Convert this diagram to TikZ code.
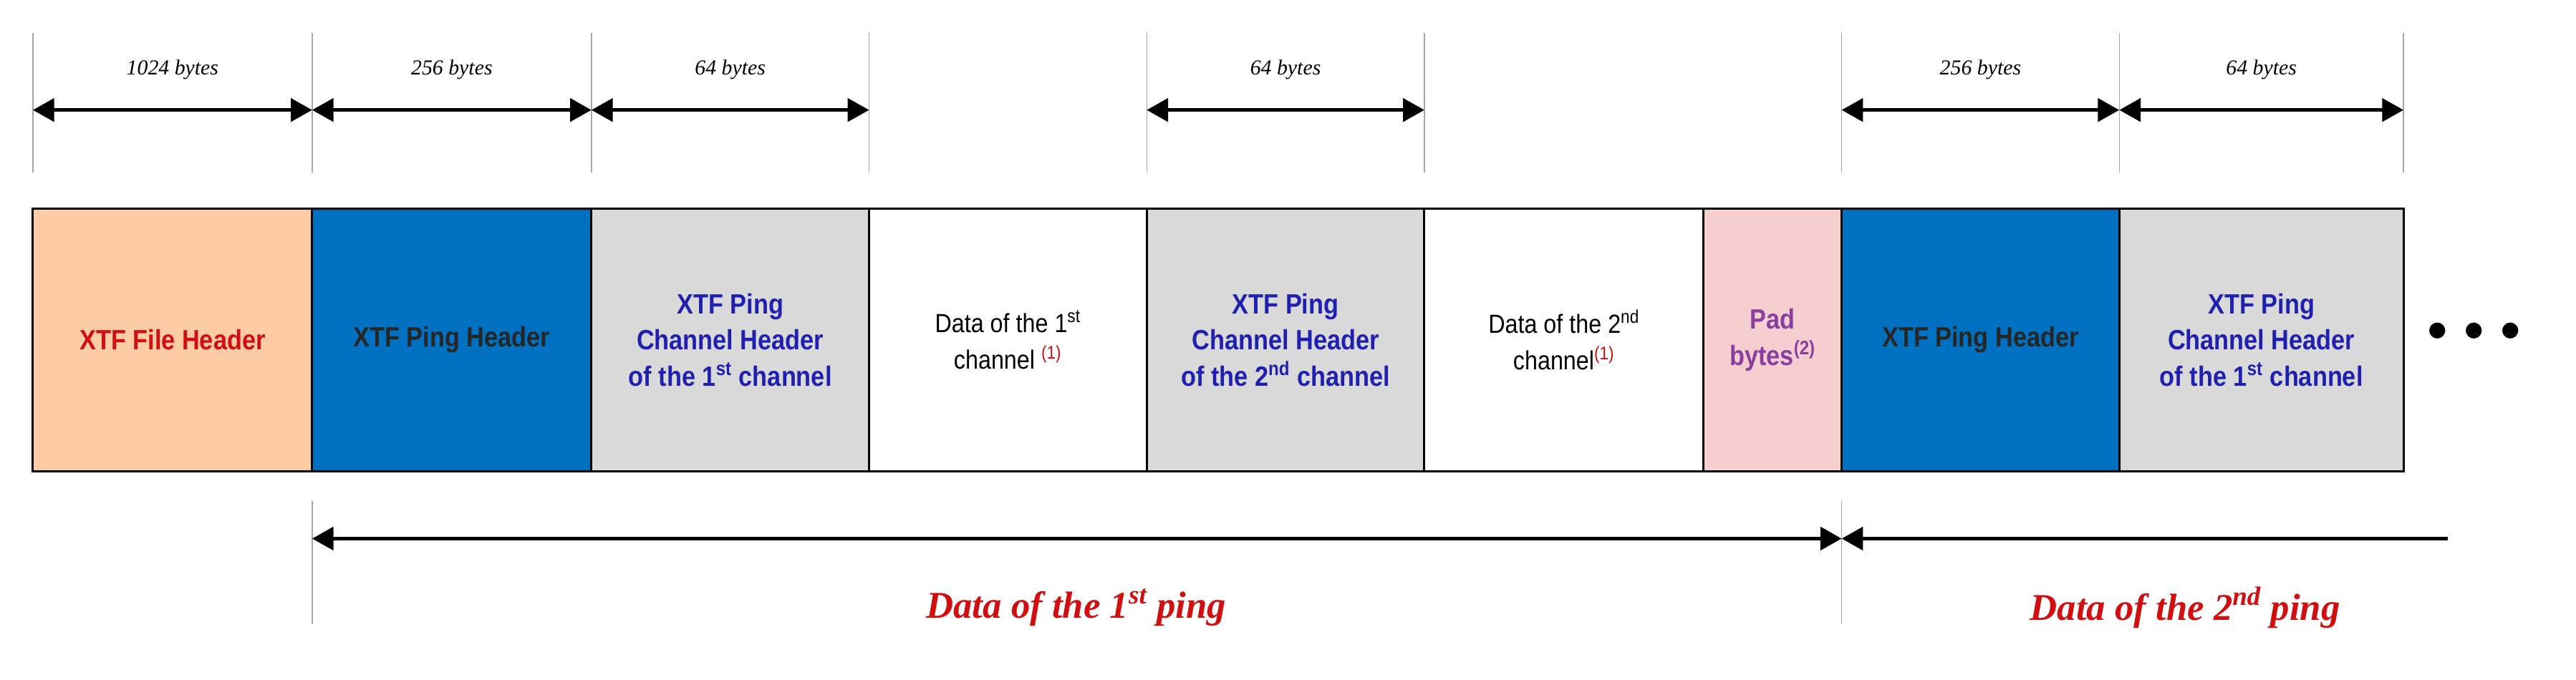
\documentclass[tikz,border=0pt]{standalone}
\usepackage{fontspec}
\setmainfont{Liberation Sans}[FakeStretch=0.88]
\newfontfamily\serifit{Liberation Serif}
\usetikzlibrary{arrows.meta}
\definecolor{cOrange}{HTML}{FDCBA6}
\definecolor{cBlue}{HTML}{0070C0}
\definecolor{cGray}{HTML}{D9D9D9}
\definecolor{cPink}{HTML}{F5CFCF}
\definecolor{tRed}{HTML}{D01010}
\definecolor{tBlue}{HTML}{2020B0}
\definecolor{tPurple}{HTML}{8A3FA0}
\begin{document}
\begin{tikzpicture}[x=1pt,y=-1pt,
  seg/.style={draw=black,line width=1.3pt,minimum height=160pt,inner sep=0pt,align=center,font=\bfseries\fontsize{17}{22}\selectfont},
  tick/.style={draw=gray!70,line width=0.6pt},
  dim/.style={line width=2.2pt,{Triangle[length=13pt,width=14pt]}-{Triangle[length=13pt,width=14pt]}},
  dimlab/.style={font=\serifit\itshape\fontsize{13}{15}\selectfont},
  pinglab/.style={font=\serifit\bfseries\itshape\fontsize{23}{27}\selectfont,text=tRed}]
\useasboundingbox (0,0) rectangle (1568,414);
% segments
\node[seg,fill=cOrange,minimum width=170pt,text=tRed] (s1) at (105,207) {XTF File Header};
\node[seg,fill=cBlue,minimum width=170pt,text=black!85] (s2) at (275,207) {XTF Ping Header};
\node[seg,fill=cGray,minimum width=169pt,text=tBlue] (s3) at (444.5,207) {XTF Ping\\Channel Header\\of the 1\textsuperscript{st} channel};
\node[seg,fill=white,minimum width=169pt,font=\fontsize{16}{22}\selectfont] (s4) at (613.5,207) {Data of the 1\textsuperscript{st}\\channel \textcolor{tRed}{\textsuperscript{(1)}}};
\node[seg,fill=cGray,minimum width=169pt,text=tBlue] (s5) at (782.5,207) {XTF Ping\\Channel Header\\of the 2\textsuperscript{nd} channel};
\node[seg,fill=white,minimum width=170pt,font=\fontsize{16}{22}\selectfont] (s6) at (952,207) {Data of the 2\textsuperscript{nd}\\channel\textcolor{tRed}{\textsuperscript{(1)}}};
\node[seg,fill=cPink,minimum width=84pt,text=tPurple] (s7) at (1079,207) {Pad\\bytes\textsuperscript{(2)}};
\node[seg,fill=cBlue,minimum width=169pt,text=black!85] (s8) at (1205.5,207) {XTF Ping Header};
\node[seg,fill=cGray,minimum width=173pt,text=tBlue] (s9) at (1376.5,207) {XTF Ping\\Channel Header\\of the 1\textsuperscript{st} channel};
\node[font=\fontsize{32}{32}\selectfont] (dots) at (1506,202) {$\bullet\,\bullet\,\bullet$};
% top ticks
\foreach \x/\n in {20/a,190/b,360/c,529/d,698/e,867/f,1121/g,1290/h,1463/i}{
  \coordinate (t\n1) at (\x,20); \coordinate (t\n2) at (\x,105); \coordinate (m\n) at (\x,67);
  \draw[tick] (t\n1) -- (t\n2);}
\draw[dim] (ma) -- node[dimlab,above=14pt]{1024 bytes} (mb);
\draw[dim] (mb) -- node[dimlab,above=14pt]{256 bytes} (mc);
\draw[dim] (mc) -- node[dimlab,above=14pt]{64 bytes} (md);
\draw[dim] (me) -- node[dimlab,above=14pt]{64 bytes} (mf);
\draw[dim] (mg) -- node[dimlab,above=14pt]{256 bytes} (mh);
\draw[dim] (mh) -- node[dimlab,above=14pt]{64 bytes} (mi);
% bottom
\coordinate (b1) at (190,305); \coordinate (b2) at (190,380);
\coordinate (b3) at (1121,305); \coordinate (b4) at (1121,380);
\coordinate (p1) at (190,328); \coordinate (p2) at (1121,328); \coordinate (p3) at (1490,328);
\draw[tick] (b1) -- (b2); \draw[tick] (b3) -- (b4);
\draw[dim] (p1) -- (p2);
\draw[line width=2.2pt,{Triangle[length=13pt,width=14pt]}-] (p2) -- (p3);
\node[pinglab] (l1) at (655,370) {Data of the 1\textsuperscript{st} ping};
\node[pinglab] (l2) at (1330,370) {Data of the 2\textsuperscript{nd} ping};
\end{tikzpicture}
\end{document}
